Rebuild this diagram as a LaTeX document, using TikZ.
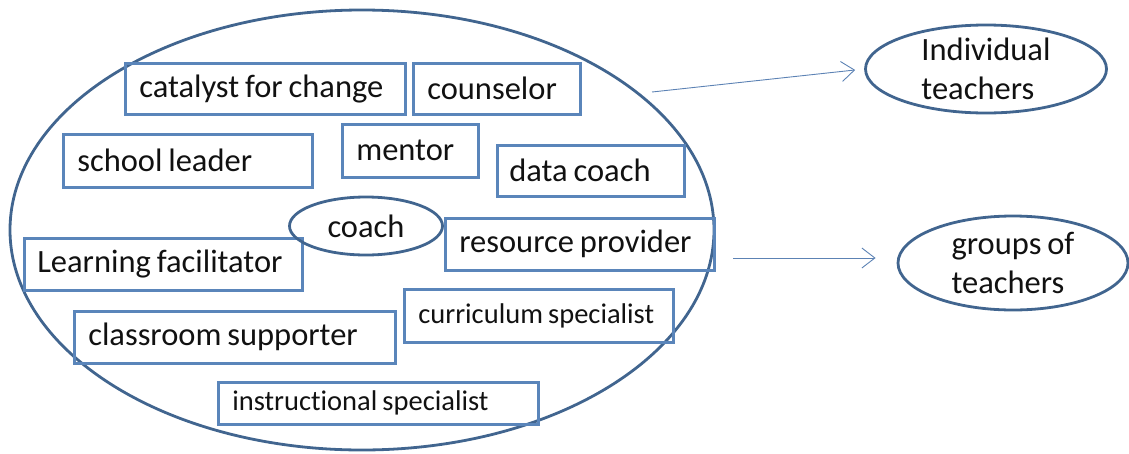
\documentclass[tikz,border=0pt]{standalone}
\usepackage{fontspec}
\setmainfont[WordSpace=0.8, Ligatures=NoCommon]{Carlito}
\usepackage{xcolor}
\usepackage{tikz}
\usetikzlibrary{shapes.geometric,arrows.meta}
\definecolor{boxline}{HTML}{5A85BA}
\definecolor{ringline}{HTML}{41658F}
\definecolor{arrline}{HTML}{5C82B4}
\definecolor{ink}{HTML}{111111}
\tikzset{
  role/.style={draw=boxline, line width=2.6pt, anchor=north west, align=left,
    inner xsep=12pt, inner ysep=0pt, text=ink, font=\fontsize{32.5}{39}\selectfont,
    execute at begin node={\spaceskip=\fontdimen2\font\relax}},
  small/.style={font=\fontsize{28.5}{34}\selectfont},
  ring/.style={ellipse, draw=ringline, line width=2.8pt, inner sep=0pt, text=ink,
    font=\fontsize{32.5}{39}\selectfont},
  arr/.style={draw=arrline, line width=0.9pt, -{Straight Barb[length=13pt,width=20pt]}}
}

\begin{document}
\begin{tikzpicture}[x=1pt, y=-1pt]
    \useasboundingbox (0,0) rectangle (1129,453);

    % --- BIG RING ---
    \node[ring, minimum width=704pt, minimum height=440pt] (big) at (362,230) {};

    % --- ROLES ---
    \node[role, text width=256pt, minimum height=51pt] (catalyst) at (124,62) {\hspace*{2pt}catalyst for change};
    \node[role, text width=143pt, minimum height=51pt] (counselor) at (412,62) {\hspace*{2pt}counselor};
    \node[role, text width=225pt, minimum height=53pt] (leader) at (62,133) {\hspace*{2pt}school leader};
    \node[role, text width=112pt, minimum height=53pt] (mentor) at (341,123) {\hspace*{2pt}mentor};
    \node[role, text width=163pt, minimum height=51pt] (data) at (496,144) {data coach};
    \node[role, text width=245pt, minimum height=52pt] (resource) at (444,217) {\hspace*{2pt}resource provider};
    \node[role, text width=254pt, minimum height=52pt] (learning) at (23,237) {\hspace*{1pt}Learning facilitator};
    \node[role, small, text width=245pt, minimum height=53pt] (curriculum) at (403,288) {\hspace*{2pt}curriculum specialist};
    \node[role, text width=297pt, minimum height=52pt] (classroom) at (73,310) {\hspace*{2pt}classroom supporter};
    \node[role, small, text width=296pt, minimum height=42pt] (instruct) at (217,381) {\hspace*{2pt}instructional specialist};

    % coach in the middle
    \node[ring, minimum width=153pt, minimum height=58pt] (coach) at (366,226) {coach};

    % --- TARGETS ---
    \node[ring, align=left, minimum width=241pt, minimum height=88pt] (indiv) at (986,69) {Individual\\teachers};
    \node[ring, align=left, minimum width=230pt, minimum height=94pt] (groups) at (1013,263) {groups of\\teachers};

    % --- ARROWS ---
    \coordinate (up) at (652,92);
    \coordinate (low) at (733,258);
    \draw[arr, shorten >=9pt] (up) -- (indiv.west);
    \draw[arr, shorten >=21pt] (low) -- (low -| groups.west);
\end{tikzpicture}
\end{document}
